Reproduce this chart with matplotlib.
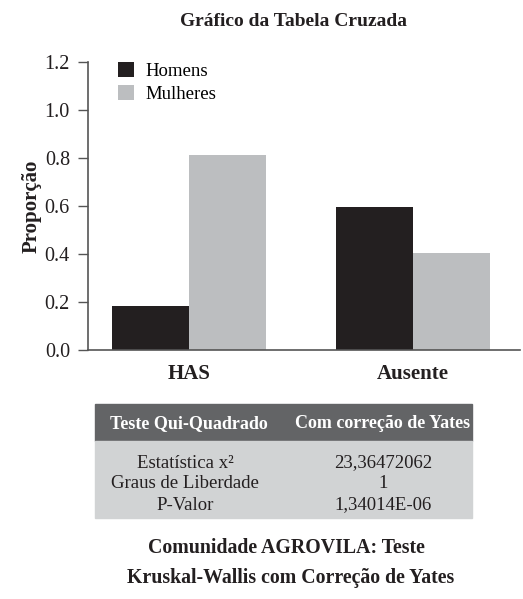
import matplotlib.pyplot as plt
import numpy as np
from matplotlib.patches import Rectangle

plt.rcParams['font.family'] = ['Liberation Serif', 'DejaVu Serif']

categorias = ["HAS", "Ausente"]
homens = [0.183, 0.596]
mulheres = [0.812, 0.404]
series = ["Homens", "Mulheres"]
yticks = [0.0, 0.2, 0.4, 0.6, 0.8, 1.0, 1.2]

tab_header = ["Teste Qui-Quadrado", "Com correção de Yates"]
tab_rotulos = ["Estatística x²", "Graus de Liberdade", "P-Valor"]
tab_valores = ["23,36472062", "1", "1,34014E-06"]

COR_H = "#231f20"
COR_M = "#bcbec0"
TXT = "#231f20"

W, H = 523, 599
fig = plt.figure(figsize=(W / 100, H / 100), dpi=100)

# eixo principal (coordenadas em pixels convertidas)
ax = fig.add_axes([88 / W, 1 - 350 / H, (520 - 88) / W, (350 - 62) / H])
x = np.arange(len(categorias))
larg = 0.344
ax.bar(x - larg / 2, homens, larg, color=COR_H, label=series[0])
ax.bar(x + larg / 2, mulheres, larg, color=COR_M, label=series[1])
ax.set_xlim(-0.451, 1.478)
ax.set_ylim(0, 1.2)
ax.set_yticks(yticks)
ax.set_yticklabels([f"{v:.1f}" for v in yticks], fontsize=14.5, color=TXT)
ax.set_xticks(x)
ax.set_xticklabels(categorias, fontsize=15, fontweight="bold", color=TXT)
ax.tick_params(axis="y", length=7, width=1, color="#555555", pad=6)
ax.tick_params(axis="x", length=0, pad=10)
for s in ("top", "right"):
    ax.spines[s].set_visible(False)
for s in ("left", "bottom"):
    ax.spines[s].set_color("#555555")
    ax.spines[s].set_linewidth(1.2)
ax.set_ylabel("Proporção", fontsize=15, fontweight="bold", labelpad=2, color=TXT)
ax.legend(loc="upper left", bbox_to_anchor=(0.053, 1.025), frameon=False,
          fontsize=13.5, handlelength=0.85, handleheight=0.85, handletextpad=0.6,
          labelspacing=0.25, borderaxespad=0)

fig.text(293 / W, 1 - 21 / H, "Gráfico da Tabela Cruzada", ha="center", va="center",
         fontsize=14, fontweight="bold", color=TXT)

# tabela de teste
tx0, tx1 = 95, 472
fig.patches.append(Rectangle((tx0 / W, 1 - 441 / H), (tx1 - tx0) / W, 37 / H,
                             transform=fig.transFigure, color="#636466", zorder=0))
fig.patches.append(Rectangle((tx0 / W, 1 - 518 / H), (tx1 - tx0) / W, 77 / H,
                             transform=fig.transFigure, color="#d1d3d4", zorder=0))
col_x = [189, 383]
for cx, txt in zip(col_x, tab_header):
    fig.text(cx / W, 1 - 424 / H, txt, ha="center", va="center", fontsize=13,
             fontweight="bold", color="white")
for i, (rot, val) in enumerate(zip(tab_rotulos, tab_valores)):
    yy = 1 - (463 + i * 21) / H
    fig.text(185 / W, yy, rot, ha="center", va="center", fontsize=13.5, color=TXT)
    fig.text(col_x[1] / W, yy, val, ha="center", va="center", fontsize=13.5, color=TXT)

fig.text(286 / W, 1 - 548 / H, "Comunidade AGROVILA: Teste", ha="center", va="center",
         fontsize=14.3, fontweight="bold", color=TXT)
fig.text(291 / W, 1 - 578 / H, "Kruskal-Wallis com Correção de Yates", ha="center",
         va="center", fontsize=14.3, fontweight="bold", color=TXT)

fig.savefig("out.png", dpi=100)
